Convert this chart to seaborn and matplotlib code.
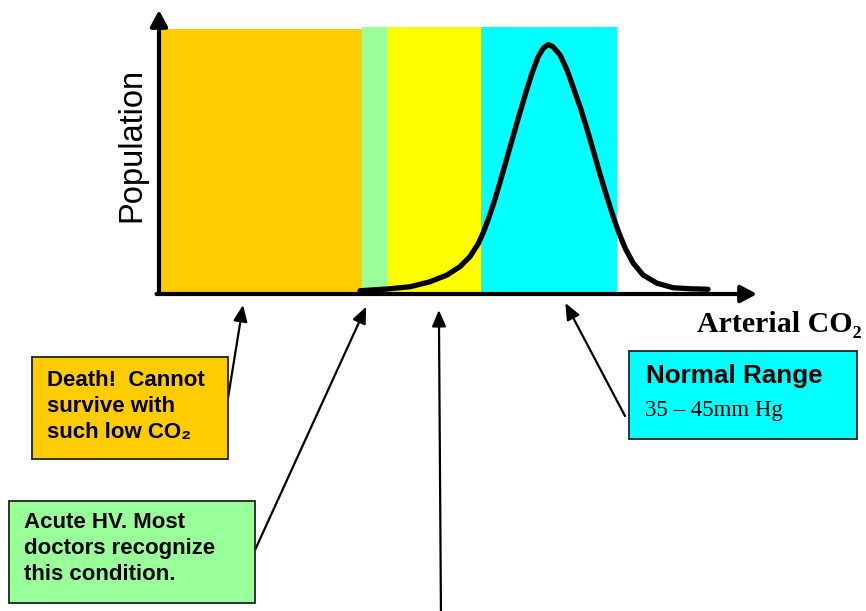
import numpy as np
import matplotlib
matplotlib.use("Agg")
import matplotlib.pyplot as plt
from matplotlib.patches import Rectangle
import seaborn as sns

# population curve vs arterial CO2 (mmHg)
co2 = [26.10, 28.09, 29.78, 31.25, 32.50, 33.46, 34.19, 34.78, 35.15, 35.51,
       35.96, 36.40, 36.84, 37.28, 37.72, 38.24, 38.75, 39.19, 39.56, 39.93,
       40.29, 40.81, 41.32, 41.76, 42.28, 42.79, 43.24, 43.68, 44.12, 44.63,
       45.07, 45.59, 46.18, 46.91, 47.94, 49.12, 50.37, 51.69]
population = [1.3, 2.0, 2.9, 4.9, 7.6, 11.0, 15.0, 20.0, 24.4, 29.6,
              36.8, 44.8, 53.2, 61.6, 70.0, 79.6, 88.4, 94.8, 98.2, 99.8,
              98.9, 95.6, 89.6, 82.9, 74.9, 66.0, 57.6, 49.2, 41.2, 32.4,
              25.4, 18.4, 12.4, 7.6, 4.3, 2.5, 2.1, 1.9]

# coloured zones along the CO2 axis
zone_names = ["death", "acute HV", "unlabelled", "normal"]
zone_edges = [11.32, 26.25, 28.1, 35.0, 45.0]
zone_tops = [106.0, 106.8, 106.8, 106.8]
zone_colors = ["#FFCC00", "#99FF99", "#FFFF00", "#00FFFF"]

# where the callout arrows point on the CO2 axis
arrow_co2 = [17.5, 26.55, 31.9, 41.2]
arrow_drop = [-4.4, -5.1, -6.4, -3.6]

W, H = 866, 611
SANS = ["Liberation Sans", "DejaVu Sans"]
SERIF = ["Liberation Serif", "DejaVu Serif"]

sns.set_style("white")
fig = plt.figure(figsize=(W / 100, H / 100), dpi=100)

# axes box: origin at (159, 294) px, x arrow tip at 757 px, y arrow tip at 10 px
ax = fig.add_axes([159 / W, 1 - 294 / H, 598 / W, 284 / H])
ax.set_xlim(11.32, 55.29)
ax.set_ylim(0, 113.6)
ax.set_axis_off()

ax.bar(zone_edges[:-1], zone_tops, width=np.diff(zone_edges), align="edge",
       color=zone_colors, linewidth=0)
sns.lineplot(x=co2, y=population, ax=ax, color="black", linewidth=3.8, sort=False,
             solid_capstyle="round", solid_joinstyle="round")

# arrowed axes
axis_arrow = dict(arrowstyle="-|>,head_length=0.6,head_width=0.32", lw=3, color="black",
                  mutation_scale=16, shrinkA=0, shrinkB=0)
ax.annotate("", xy=(1, 0), xytext=(-0.004, 0), xycoords="axes fraction", arrowprops=axis_arrow)
ax.annotate("", xy=(0, 1), xytext=(0, 0), xycoords="axes fraction", arrowprops=axis_arrow)

fig.text(132 / W, 1 - 145 / H, "Population", rotation=90, ha="center", va="center",
         fontsize=23.5, family=SANS, color="black")
fig.text(697 / W, 1 - 332 / H, "Arterial CO\u2082", ha="left", va="baseline",
         fontsize=21.5, fontweight="bold", family=SERIF, color="black")


def box(x0, y0, x1, y1, color):
    fig.add_artist(Rectangle((x0 / W, 1 - y1 / H), (x1 - x0) / W, (y1 - y0) / H,
                             transform=fig.transFigure, facecolor=color,
                             edgecolor="#222222", linewidth=1.3))


def lines(x, baselines, texts, **kw):
    for b, t in zip(baselines, texts):
        fig.text(x / W, 1 - b / H, t, ha="left", va="baseline", color="black", **kw)


box(32, 357, 228, 459, zone_colors[0])
lines(47, [386, 412, 438], ["Death!  Cannot", "survive with", "such low CO\u2082"],
      fontsize=16, fontweight="bold", family=SANS)

box(9, 501, 255, 603, zone_colors[1])
lines(24, [528, 554, 580], ["Acute HV. Most", "doctors recognize", "this condition."],
      fontsize=16, fontweight="bold", family=SANS)

box(629, 351, 857, 439, zone_colors[3])
lines(646, [383], ["Normal Range"], fontsize=18.7, fontweight="bold", family=SANS)
lines(645, [416], ["35 \u2013 45mm Hg"], fontsize=16.4, family=SERIF)

# callout arrows: tails in figure pixels (from top-left), tips on the axis
tails = [(228, 398), (255, 550), (441, 620), (625, 416)]
call_arrow = dict(arrowstyle="-|>,head_length=0.7,head_width=0.3", lw=1.6, color="black",
                  mutation_scale=14, shrinkA=0, shrinkB=0)
for cx, dy, (tx, ty) in zip(arrow_co2, arrow_drop, tails):
    ax.annotate("", xy=(cx, dy), xycoords="data", xytext=(tx, H - ty),
                textcoords="figure pixels", arrowprops=call_arrow, annotation_clip=False)

fig.savefig("out.png", dpi=100)
